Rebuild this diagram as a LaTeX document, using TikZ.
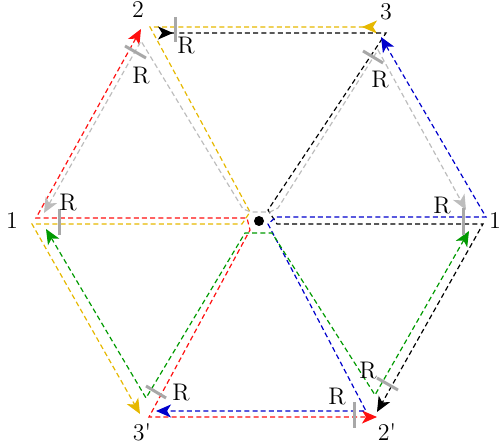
\documentclass[tikz,border=0pt]{standalone}
\usetikzlibrary{arrows.meta}

\definecolor{rtred}{HTML}{FF1010}
\definecolor{rtgold}{HTML}{E6B800}
\definecolor{rtgreen}{HTML}{009A00}
\definecolor{rtblue}{HTML}{0000CC}
\definecolor{rtgray}{HTML}{BDBDBD}
\definecolor{tkgray}{HTML}{A8A8A8}

\begin{document}
\begin{tikzpicture}[
        x=0.5pt, y=-0.5pt,
        >={Stealth[length=7.5pt,width=6.5pt,inset=2pt]},
        route/.style={<->, dash pattern=on 2.5pt off 1.6pt, line width=0.6pt},
        backroute/.style={{Stealth[length=7.5pt,width=6.5pt,inset=2pt,reversed]}->, dash pattern=on 2.5pt off 1.6pt, line width=0.6pt},
        rtick/.style={draw=tkgray, line width=1.5pt},
        vlab/.style={font=\fontsize{12}{14}\selectfont, inner sep=1pt},
        rlab/.style={font=\fontsize{12}{14}\selectfont, inner sep=1pt}
    ]
        \useasboundingbox (0,0) rectangle (504,443);

        % vertices
        \node[vlab] (v1l) at (12,221) {1};
        \node[vlab] (v2)  at (138,10) {2};
        \node[vlab] (v3)  at (386,12) {3};
        \node[vlab] (v1r) at (495,221) {1};
        \node[vlab] (v2p) at (387,432) {2\textquotesingle};
        \node[vlab] (v3p) at (142,432) {3\textquotesingle};
        \node[circle, fill, inner sep=0pt, minimum size=5pt] (hub) at (259,221) {};

        % routes
        \draw[route, rtred]
            (141,29) -- (36,218) -- (247,218) -- (250,230) -- (149,417) -- (377,417);
        \draw[backroute, rtgold]
            (377,27) -- (150,27) -- (250,212) -- (242,224) -- (32,224) -- (140,414);
        \draw[backroute, black]
            (158,33) -- (386,33) -- (268,210) -- (277,224) -- (483,224) -- (377,412);
        \draw[route, rtblue]
            (381,37) -- (486,217) -- (276,217) -- (268,224) -- (366,411) -- (156,411);
        \draw[route, rtgreen]
            (46,229) -- (146,398) -- (245,233) -- (272,233) -- (375,395) -- (469,231);
        \draw[route, rtgray]
            (44,213) -- (141,41) -- (243,209) -- (251,212) -- (270,212) -- (278,208) -- (378,50) -- (466,210);

        % R marks
        \draw[rtick] (175,17) -- (175,42);
        \node[rlab] (r1) at (186,46) {R};
        \draw[rtick] (125,46) -- (146,58);
        \node[rlab] (r2) at (141,76) {R};
        \draw[rtick] (363,51) -- (383,63);
        \node[rlab] (r3) at (380,80) {R};
        \draw[rtick] (59,209) -- (59,235);
        \node[rlab] (r4) at (68,203) {R};
        \draw[rtick] (463,208) -- (463,235);
        \node[rlab] (r5) at (442,206) {R};
        \draw[rtick] (377,378) -- (398,390);
        \node[rlab] (r6) at (368,371) {R};
        \draw[rtick] (354,402) -- (354,428);
        \node[rlab] (r7) at (337,397) {R};
        \draw[rtick] (146,386) -- (166,398);
        \node[rlab] (r8) at (181,393) {R};
    \end{tikzpicture}
\end{document}
